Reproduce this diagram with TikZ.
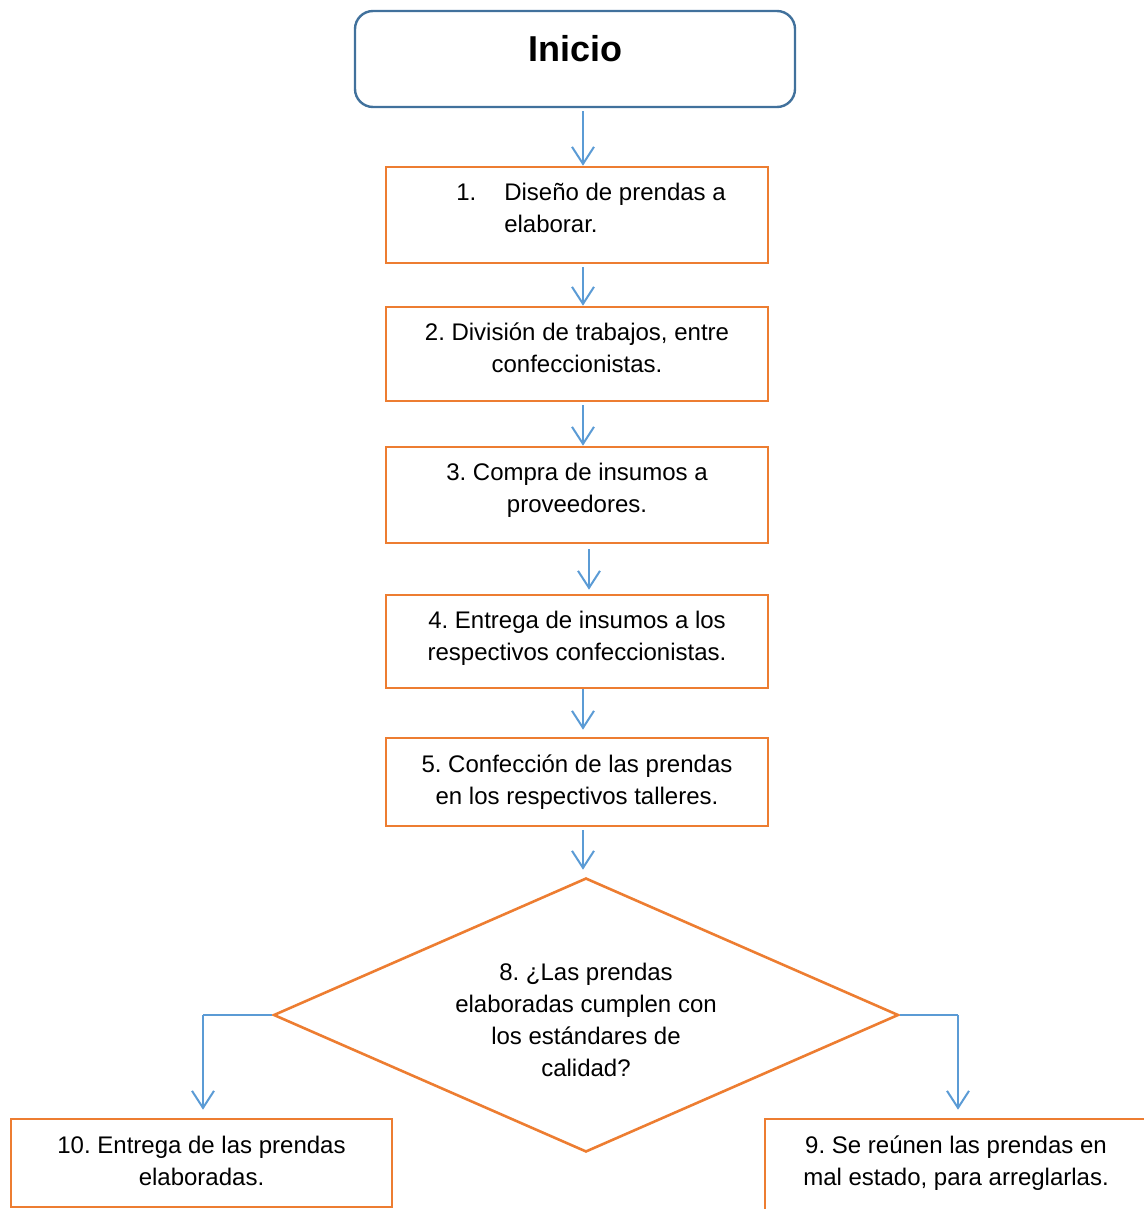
\documentclass[tikz,border=0pt]{standalone}
\usepackage{fontspec}
\setmainfont{Liberation Sans}
\frenchspacing
\usetikzlibrary{arrows.meta,shapes.geometric}
\definecolor{stepOrange}{HTML}{ED7D31}
\definecolor{arrowBlue} {HTML}{5B9BD5}
\definecolor{startBlue} {HTML}{41719C}
\tikzset{
  font=\fontsize{12}{16}\selectfont,
  arrow/.style={-{Straight Barb[length=8.5pt,width=11pt]},draw=arrowBlue,line width=1pt},
  startbox/.style={rectangle,rounded corners=9pt,draw=startBlue,line width=1.2pt,
    minimum width=220pt,minimum height=48pt,align=center,font=\fontsize{18}{22}\selectfont\bfseries},
  stepbox/.style={rectangle,draw=stepOrange,line width=1.3pt,
    minimum width=191pt,align=center,inner sep=2pt},
  decision/.style={diamond,draw=stepOrange,line width=1.3pt,aspect=2.28,
    minimum width=312.5pt,minimum height=137pt,inner sep=0pt,align=center},
}
\begin{document}
\begin{tikzpicture}[x=0.5pt,y=-0.5pt]
\useasboundingbox (0,0) rectangle (1144,1209);

\node[startbox] (inicio) at (575,59) {\raisebox{11pt}{Inicio}};

\node[stepbox,minimum height=48pt] (diseno) at (577,215)
  {\hspace*{14pt}\begin{tabular}{@{}l@{\hspace{14pt}}l@{}}1. & Diseño de prendas a\\ & elaborar.\end{tabular}\\[2pt]};
\node[stepbox,minimum height=47pt] (division) at (577,354)
  {2. División de trabajos, entre\\confeccionistas.\\[-10pt]};
\node[stepbox,minimum height=48pt] (compra) at (577,495)
  {3. Compra de insumos a\\proveedores.\\[-9pt]};
\node[stepbox,minimum height=46.5pt] (entrega) at (577,641.5)
  {4. Entrega de insumos a los\\respectivos confeccionistas.\\[-10.5pt]};
\node[stepbox,minimum height=44pt] (confeccion) at (577,782)
  {5. Confección de las prendas\\en los respectivos talleres.};

\node[decision] (calidad) at (586,1015)
  {\raisebox{0pt}{}\\[-2pt]8. ¿Las prendas\\elaboradas cumplen con\\los estándares de\\calidad?};

\node[stepbox,minimum width=190.5pt,minimum height=44pt] (final) at (201.5,1163)
  {10. Entrega de las prendas\\elaboradas.\\[-14pt]};
\node[stepbox,minimum height=46pt] (arreglo) at (956,1165)
  {9. Se reúnen las prendas en\\mal estado, para arreglarlas.\\[-12pt]};

\draw[arrow,shorten <=1.5pt] ([xshift=4pt]inicio.south) -- ([xshift=4pt]inicio.south |- diseno.north);
\draw[arrow,shorten <=1.5pt] ([xshift=3pt]diseno.south) -- ([xshift=3pt]division.north);
\draw[arrow,shorten <=1.5pt] ([xshift=3pt]division.south) -- ([xshift=3pt]compra.north);
\draw[arrow,shorten <=2.5pt,shorten >=2pt] ([xshift=6pt]compra.south) -- ([xshift=6pt]entrega.north);
\draw[arrow,shorten >=3.5pt] ([xshift=3pt]entrega.south) -- ([xshift=3pt]confeccion.north);
\draw[arrow,shorten <=1.5pt,shorten >=3.5pt] ([xshift=3pt]confeccion.south) -- ([xshift=3pt]confeccion.south |- calidad.north);

\draw[arrowBlue,line width=0.6pt] (calidad.west) -- (203,1015) coordinate (leftturn);
\draw[arrow] (leftturn) -- ([yshift=4pt]leftturn |- final.north);
\draw[arrowBlue,line width=0.6pt] (calidad.east) -- (958,1015) coordinate (rightturn);
\draw[arrow] (rightturn) -- ([yshift=4pt]rightturn |- arreglo.north);

\end{tikzpicture}
\end{document}
